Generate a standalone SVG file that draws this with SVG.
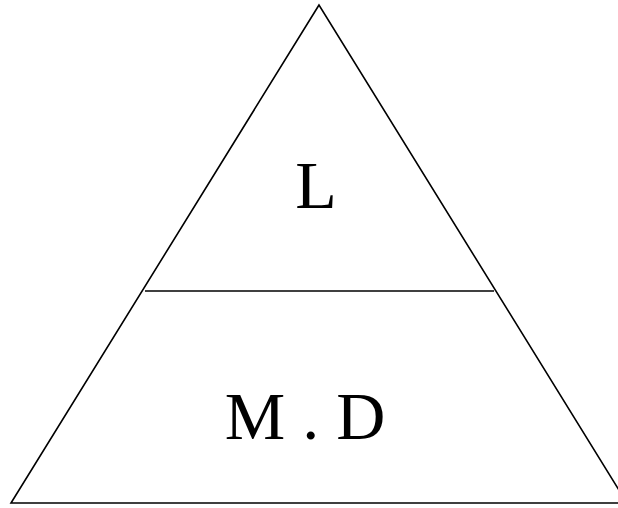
<svg xmlns="http://www.w3.org/2000/svg" width="618" height="508" viewBox="0 0 618 508">
<style>
.ln{fill:none;stroke:#000;stroke-width:1.6;stroke-linejoin:miter}
.t{font-family:"Liberation Serif","Times New Roman",serif;font-size:68px;fill:#000;text-anchor:middle}
</style>
<rect width="618" height="508" fill="#fff"/>
<g id="triangle">
<polygon class="ln" points="319,5 11,503 627,503"/>
</g>
<g id="divider">
<line class="ln" x1="145" y1="291" x2="494" y2="291"/>
</g>
<g id="top"><text class="t" x="316" y="208">L</text></g>
<g id="bottom"><text class="t" x="305" y="439">M . D</text></g>
</svg>
